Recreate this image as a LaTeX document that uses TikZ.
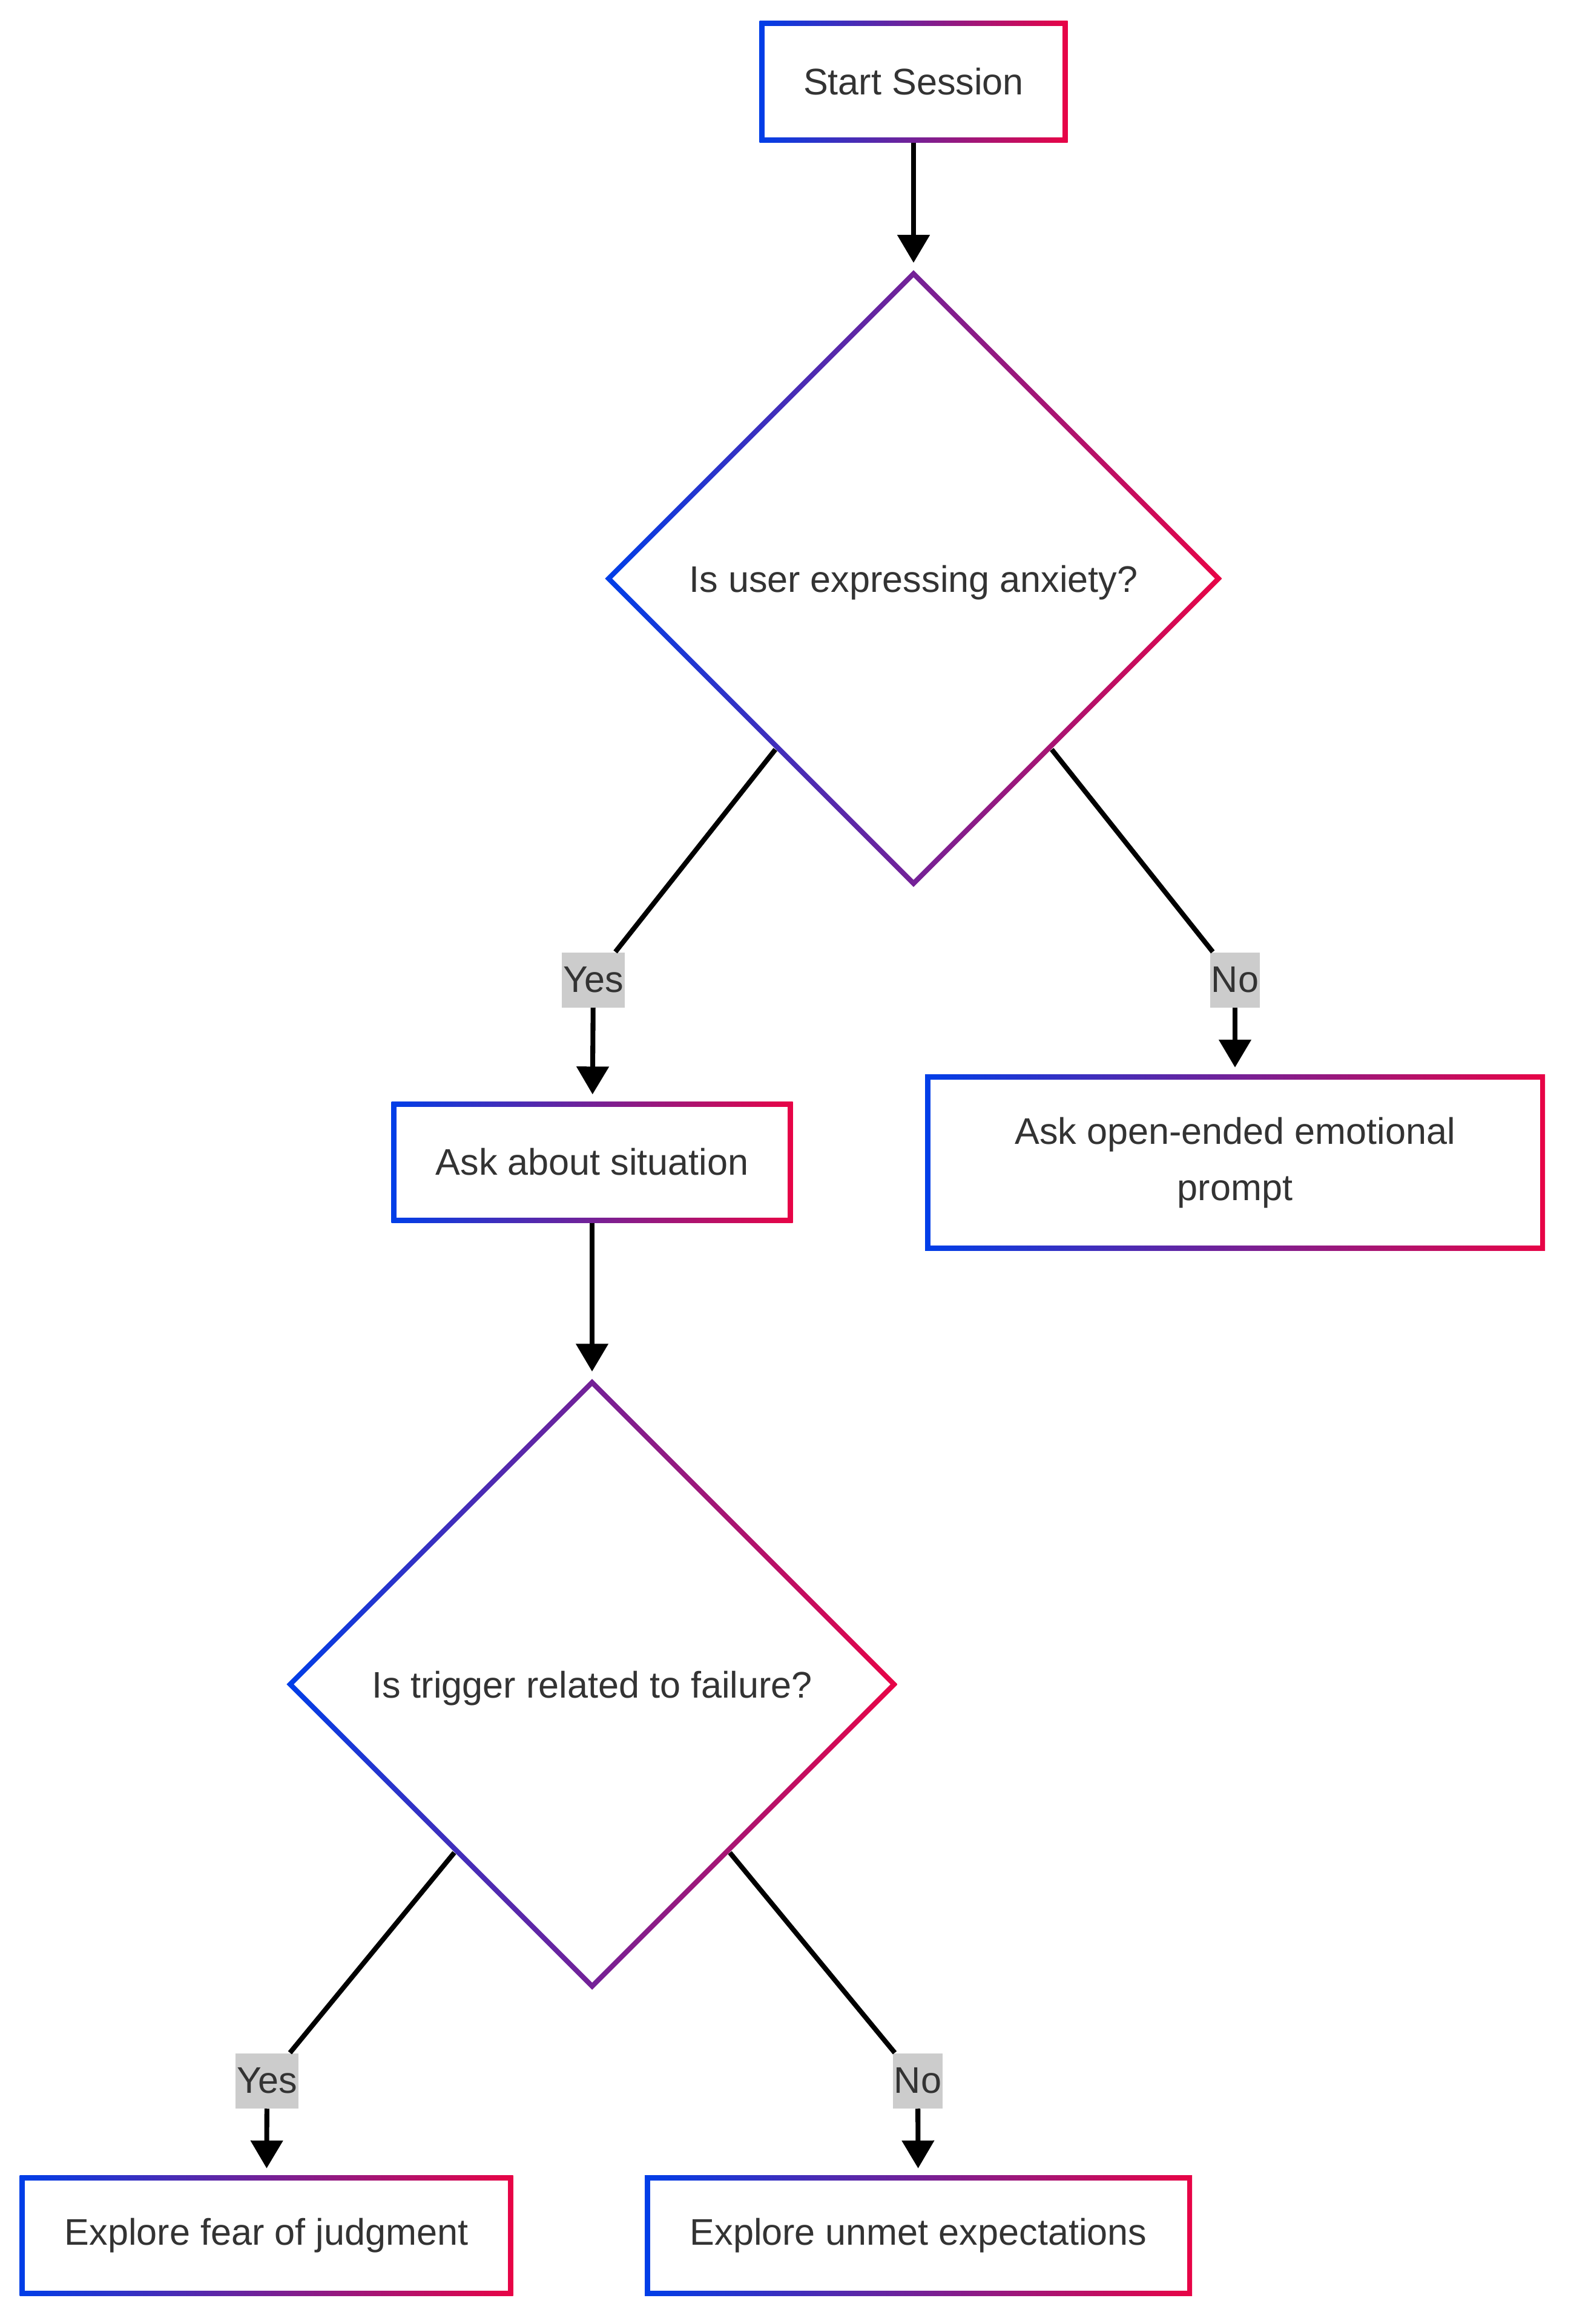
\documentclass[tikz,border=0pt]{standalone}
\usepackage{fontspec}
\setmainfont{Liberation Sans}
\usetikzlibrary{shapes.geometric,arrows.meta,calc}
\definecolor{gblue}{RGB}{0,62,232}
\definecolor{gred}{RGB}{232,4,70}
\definecolor{txtgray}{RGB}{51,51,51}
\definecolor{lblgray}{RGB}{204,204,204}
\begin{document}
\begin{tikzpicture}[font=\fontsize{17.4}{26.5}\selectfont, text=txtgray,
    procbox/.style={rectangle, inner sep=0pt, align=center,
      path picture={
        \shade[left color=gblue, right color=gred] (path picture bounding box.south west) rectangle (path picture bounding box.north east);
        \fill[white] ([shift={(0.085,0.085)}]path picture bounding box.south west) rectangle ([shift={(-0.085,-0.085)}]path picture bounding box.north east);
      }},
    decbox/.style={diamond, inner sep=0pt, text depth=0pt, minimum width=#1, minimum height=#1,
      path picture={
        \shade[left color=gblue, right color=gred] (path picture bounding box.south west) rectangle (path picture bounding box.north east);
        \fill[white] ([yshift=-0.12cm]path picture bounding box.north) -- ([xshift=-0.12cm]path picture bounding box.east) -- ([yshift=0.12cm]path picture bounding box.south) -- ([xshift=0.12cm]path picture bounding box.west) -- cycle;
      }},
    yesno/.style={fill=lblgray, inner xsep=0.5pt, inner ysep=0pt, minimum height=0.91cm},
    flow/.style={black, line width=2.3pt},
    flowarr/.style={flow, -{Triangle[length=0.46cm,width=0.52cm]}, shorten >=0.11cm}]
  \useasboundingbox (0,0) rectangle (25.94,-38.40);

  % Cajas
  \node[procbox, minimum width=5.09cm, minimum height=2.01cm] (start) at (15.09,-1.35) {Start Session};
  \node[decbox=10.2cm] (q1) at (15.09,-9.56) {Is user expressing anxiety?};
  \node[procbox, minimum width=6.63cm, minimum height=2.00cm] (situation) at (9.78,-19.20) {Ask about situation};
  \node[procbox, minimum width=10.24cm, minimum height=2.91cm] (prompt) at (20.40,-19.21) {Ask open-ended emotional\\prompt};
  \node[decbox=10.1cm] (q2) at (9.78,-27.83) {Is trigger related to failure?};
  \node[procbox, minimum width=8.15cm, minimum height=1.99cm] (fear) at (4.40,-36.94) {Explore fear of judgment};
  \node[procbox, minimum width=9.04cm, minimum height=1.99cm] (unmet) at (15.17,-36.94) {Explore unmet expectations};

  % Etiquetas
  \node[yesno] (yes1) at (9.80,-16.19) {Yes};
  \node[yesno] (no1) at (20.40,-16.19) {No};
  \node[yesno] (yes2) at (4.41,-34.38) {Yes};
  \node[yesno] (no2) at (15.16,-34.38) {No};

  % Flechas
  \draw[flowarr] (start) -- (q1);
  \draw[flow] ($(q1.west)!0.553!(q1.south)$) -- (yes1);
  \draw[flowarr] (yes1) -- (situation);
  \draw[flow] ($(q1.east)!0.553!(q1.south)$) -- (no1);
  \draw[flowarr] (no1) -- (prompt);
  \draw[flowarr] (situation) -- (q2);
  \draw[flow] ($(q2.west)!0.55!(q2.south)$) -- (yes2);
  \draw[flowarr] (yes2) -- (fear);
  \draw[flow] ($(q2.east)!0.55!(q2.south)$) -- (no2);
  \draw[flowarr] (no2) -- (unmet);
\end{tikzpicture}
\end{document}
